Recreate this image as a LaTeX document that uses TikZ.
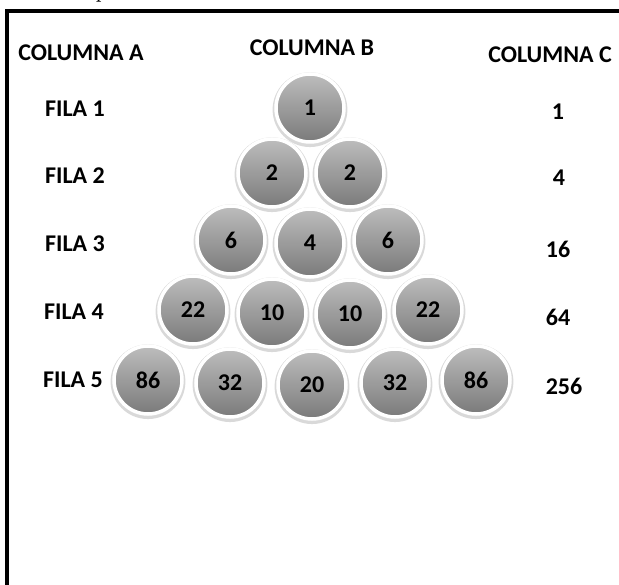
\documentclass[tikz,border=0pt]{standalone}
\usepackage{fontspec}
\setmainfont{Carlito}
\newfontfamily\capfont{Liberation Serif}
\usetikzlibrary{shadows}
\definecolor{balltop}{HTML}{BDBDBD}
\definecolor{ballbot}{HTML}{7A7A7A}
\tikzset{
  ball/.style={circle, minimum size=68pt, inner sep=0pt,
    top color=balltop, bottom color=ballbot, draw=white, line width=3.5pt,
    font=\fontsize{24}{26}\selectfont\bfseries,
    drop shadow={shadow xshift=0pt, shadow yshift=-1.5pt, shadow scale=1.1, opacity=0.15, fill=black}},
  label/.style={font=\fontsize{24}{26}\selectfont\bfseries, inner sep=0pt},
  header/.style={font=\fontsize{24}{26}\selectfont\bfseries, inner sep=0pt},
  frameline/.style={line width=3.5pt, draw=black}
}
\begin{document}
\begin{tikzpicture}[x=1pt,y=-1pt]
\useasboundingbox (0,0) rectangle (619,585);
% cut-off caption letter
\begin{scope}
\clip (0,0) rectangle (619,9);
\node[inner sep=0pt, anchor=base, font=\capfont\itshape\fontsize{22}{24}\selectfont] (cap) at (103,-2) {p};
\end{scope}
% frame
\coordinate (fbl) at (7,585);
\coordinate (ftl) at (7,11);
\coordinate (ftr) at (619,11);
\draw[frameline] (fbl) -- (ftl) -- (ftr);
% headers
\node[header] (ha) at (81,53) {COLUMNA A};
\node[header] (hb) at (312,48) {COLUMNA B};
\node[header] (hc) at (550,55) {COLUMNA C};
% rows
\node[label] (f1) at (75,109) {FILA 1};
\node[label] (f2) at (75,176) {FILA 2};
\node[label] (f3) at (75,244) {FILA 3};
\node[label] (f4) at (74,312) {FILA 4};
\node[label] (f5) at (73,380) {FILA 5};
% column C
\node[label] (c1) at (558,112) {1};
\node[label] (c2) at (559,178) {4};
\node[label] (c3) at (558,249) {16};
\node[label] (c4) at (558,317) {64};
\node[label] (c5) at (564,386) {256};
% balls
\node[ball] (b11) at (310,108) {1};
\node[ball] (b21) at (272,173) {2};
\node[ball] (b22) at (350,173) {2};
\node[ball] (b31) at (231,240) {6};
\node[ball] (b32) at (310,243) {4};
\node[ball] (b33) at (388,240) {6};
\node[ball] (b41) at (193,310) {22};
\node[ball] (b42) at (272,313) {10};
\node[ball] (b43) at (350,314) {10};
\node[ball] (b44) at (428,310) {22};
\node[ball] (b51) at (148,380) {86};
\node[ball] (b52) at (230,383) {32};
\node[ball] (b53) at (312,385) {20};
\node[ball] (b54) at (395,383) {32};
\node[ball] (b55) at (476,380) {86};
\end{tikzpicture}
\end{document}
